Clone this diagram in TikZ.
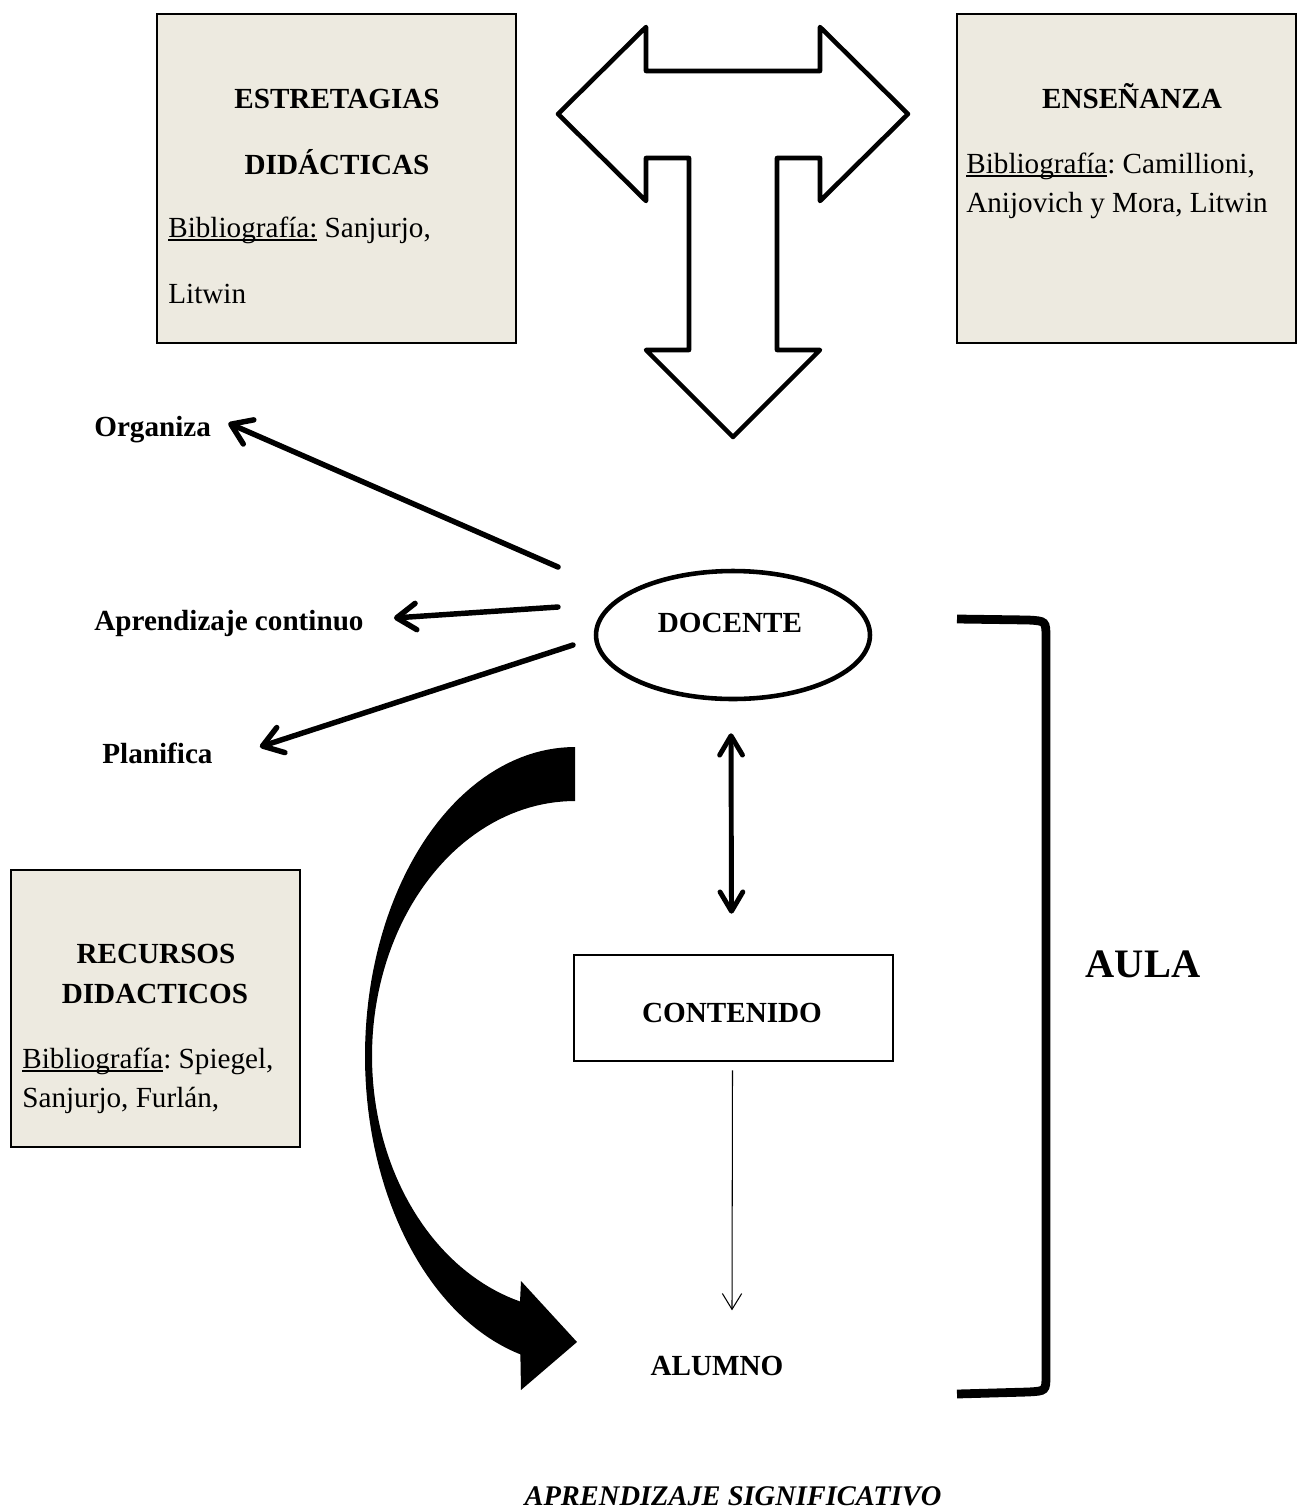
\documentclass[tikz,border=0pt]{standalone}
\usepackage{fontspec}
\setmainfont{Liberation Serif}
\usetikzlibrary{arrows.meta,shapes.geometric,calc}
\definecolor{boxfill}{RGB}{237,234,224}
\frenchspacing
\newcommand{\ulin}[1]{\mbox{\setbox0=\hbox{#1}\rlap{\rule[-0.13em]{\wd0}{0.055em}}\box0}}
\begin{document}
\frenchspacing
\begin{tikzpicture}[x=0.02cm,y=-0.02cm,
  every node/.style={font=\fontsize{16.6}{20}\selectfont, inner sep=0pt},
  bibbox/.style={draw, line width=1.6pt, fill=boxfill, rectangle},
  txt/.style={anchor=base west},
  ttl/.style={anchor=base, font=\fontsize{16.6}{20}\selectfont\bfseries},
  lbl/.style={anchor=base west, font=\fontsize{16.6}{20}\selectfont\bfseries},
  lblarrow/.style={line width=3.1pt, line cap=round, -{Straight Barb[length=11pt,width=15pt,round]}},
  dblarrow/.style={line width=2.8pt, line cap=round, {Straight Barb[length=11pt,width=13pt,round]}-{Straight Barb[length=11pt,width=13pt,round]}},
  thinarrow/.style={line width=0.6pt, -{Straight Barb[length=9pt,width=11pt]}},
  tshape/.style={draw, line width=2.6pt, line join=round, fill=white}
]
\useasboundingbox (0,0) rectangle (1298,1509);

% --- top boxes
\node[bibbox, minimum width=7.18cm, minimum height=6.58cm] (b1) at (336.5,178.5) {};
\node[ttl] (b1t1) at (337,108) {ESTRETAGIAS};
\node[ttl] (b1t2) at (337,174) {DIDÁCTICAS};
\node[txt] (b1t3) at (168,237) {\ulin{Bibliografía:} Sanjurjo,};
\node[txt] (b1t4) at (168,303) {Litwin};

\node[bibbox, minimum width=6.78cm, minimum height=6.58cm] (b2) at (1126.5,178.5) {};
\node[ttl] (b2t1) at (1132,108) {ENSEÑANZA};
\node[txt] (b2t2) at (966,173) {\ulin{Bibliografía}: Camillioni,};
\node[txt] (b2t3) at (966,212) {Anijovich y Mora, Litwin};

% --- T arrow
\draw[tshape] (558,114) -- (646,27) -- (646,71) -- (820,71) -- (820,27) -- (908,114)
  -- (820,201) -- (820,158) -- (777,158) -- (777,350) -- (820,350) -- (733,437)
  -- (646,350) -- (689,350) -- (689,158) -- (646,158) -- (646,201) -- cycle;

% --- docente and labels
\node[draw, ellipse, line width=2.6pt, minimum width=5.48cm, minimum height=2.56cm] (doc) at (733,635) {};
\node[ttl] (doctxt) at (730,632) {DOCENTE};

\node[lbl] (org) at (94,436) {Organiza};
\node[lbl] (apr) at (94,630) {Aprendizaje continuo};
\node[lbl] (pla) at (102,763) {Planifica};

\coordinate (d1) at (558,567);
\coordinate (d2) at (558,607);
\coordinate (d3) at (573,645);
\draw[lblarrow] (d1) -- ($(org.east)+(17,-6)$);
\draw[lblarrow] (d2) -- ($(apr.east)+(30,-5)$);
\draw[lblarrow] (d3) -- ($(pla.east)+(47,-6)$);

% --- contenido, alumno
\node[draw, rectangle, line width=1.5pt, minimum width=6.38cm, minimum height=2.12cm] (cont) at (733.5,1008) {};
\node[ttl] (conttxt) at (732,1022) {CONTENIDO};
\node[ttl] (alu) at (717,1375) {ALUMNO};

\draw[dblarrow] ($(doc.south)+(-2,32)$) -- ($(cont.north)+(-2,-40)$);
\draw[thinarrow] ($(cont.south)+(-1,8)$) -- ($(alu.north)+(15,-45)$);

% --- recursos box
\node[bibbox, minimum width=5.78cm, minimum height=5.54cm] (b3) at (155.5,1008.5) {};
\node[ttl] (b3t1) at (156,963) {RECURSOS};
\node[ttl] (b3t2) at (155,1003) {DIDACTICOS};
\node[txt] (b3t3) at (22,1068) {\ulin{Bibliografía}: Spiegel,};
\node[txt] (b3t4) at (22,1107) {Sanjurjo, Furlán,};

% --- curved black arrow
\fill[black] plot[domain=0:1,samples=90] ({575+210*cos(270-165*\x)},{1056+309*sin(270-165*\x)})
  -- (521,1390) -- (577,1342) -- (521,1281) -- (520,1302)
  -- plot[domain=105.7:270,samples=90] ({575+203*cos(\x)},{1056+255*sin(\x)}) -- cycle;

% --- bracket
\draw[line width=5pt] (957,619) -- (1028,620) .. controls (1046,621) .. (1046,638)
  -- (1046,1375) .. controls (1046,1391) .. (1028,1392) -- (957,1394);
\node[anchor=base, font=\fontsize{23}{27}\selectfont\bfseries] (aula) at (1143,977) {AULA};

% --- bottom title
\node[anchor=base, font=\fontsize{16.2}{20}\selectfont\bfseries\itshape] (sig) at (733,1505) {APRENDIZAJE SIGNIFICATIVO};
\end{tikzpicture}
\end{document}
